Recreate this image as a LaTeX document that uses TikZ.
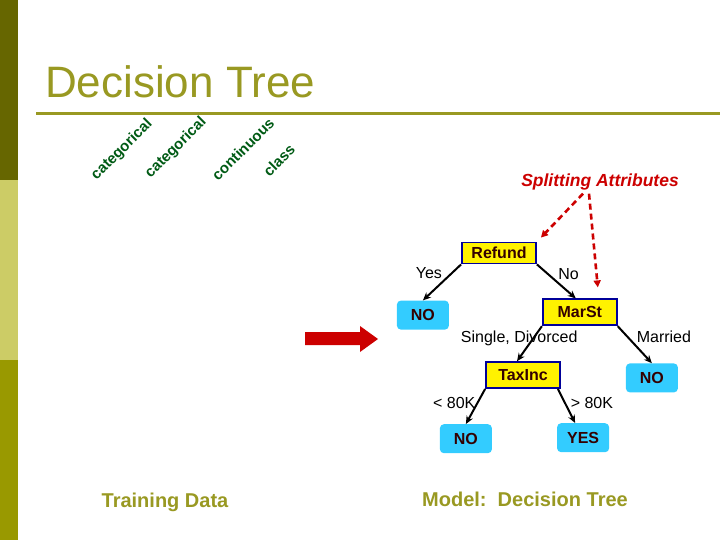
\documentclass[tikz,border=0pt]{standalone}
\usepackage{fontspec}
\setmainfont{Liberation Sans}
\usepackage{tikz}
\usetikzlibrary{arrows.meta, positioning}
\usepackage{xcolor}

\definecolor{bardark}{RGB}{102,102,0}
\definecolor{barlight}{RGB}{204,204,102}
\definecolor{barmid}{RGB}{153,153,0}
\definecolor{titleolive}{RGB}{153,153,34}
\definecolor{kindgreen}{RGB}{0,90,20}
\definecolor{splitred}{RGB}{204,0,0}
\definecolor{nodeblue}{RGB}{0,0,153}
\definecolor{leafcyan}{RGB}{51,204,255}
\definecolor{nodetext}{RGB}{51,0,0}

\begin{document}
\begin{tikzpicture}[
    x=1pt, y=-1pt,
    attr/.style={rectangle, draw=nodeblue, line width=1.8pt, fill=yellow, minimum width=74pt, minimum height=26pt, inner sep=0pt, font=\fontsize{16}{19}\selectfont\bfseries, text=nodetext},
    leaf/.style={rectangle, rounded corners=4pt, fill=leafcyan, minimum width=52pt, minimum height=29pt, inner sep=0pt, font=\fontsize{16}{19}\selectfont\bfseries, text=nodetext},
    edgelabel/.style={font=\fontsize{16}{19}\selectfont, inner sep=1pt},
    arrow/.style={-{Stealth[length=8pt, width=7pt]}, line width=2pt},
    hint/.style={-{Triangle[length=7pt, width=7pt]}, dash pattern=on 6pt off 4pt, line width=2.6pt, draw=splitred},
    kind/.style={rotate=45, font=\fontsize{15}{18}\selectfont\bfseries, text=kindgreen}
]
    \useasboundingbox (0,0) rectangle (720,540);

    % Seitenleiste
    \fill[bardark] (0,0) rectangle (18,180);
    \fill[barlight] (0,180) rectangle (18,360);
    \fill[barmid] (0,360) rectangle (18,540);

    % Titel
    \node[anchor=base west, inner sep=0pt, font=\fontsize{44}{52}\selectfont, text=titleolive] (title) at (45,98) {Decision Tree};
    \draw[titleolive, line width=3pt] (36,114) -- (720,114);

    % Attributtypen
    \node[kind] (cat1) at (122,150) {categorical};
    \node[kind] (cat2) at (176,148) {categorical};
    \node[kind] (cont) at (243,149) {continuous};
    \node[kind] (cls) at (279,160) {class};

    % Pfeil Daten -> Modell
    \fill[splitred] (305,332) -- (360,332) -- (360,326) -- (378,339) -- (360,352) -- (360,345) -- (305,345) -- cycle;

    % Baum
    \node[attr, minimum height=21pt] (refund) at (499,253) {Refund};
    \node[leaf, below left=36pt and 12pt of refund] (no1) {NO};
    \node[attr, below right=34pt and 5pt of refund] (marst) {MarSt};
    \node[attr, below left=35pt and -19pt of marst] (taxinc) {TaxInc};
    \node[leaf, below right=37pt and 8pt of marst] (no2) {NO};
    \node[leaf, below left=35pt and -7pt of taxinc] (no3) {NO};
    \node[leaf, below right=34pt and -4pt of taxinc] (yes) {YES};

    % Kanten
    \draw[arrow] (refund.south west) -- node[edgelabel, above left, pos=0.45] (lyes) {Yes} (no1.north);
    \draw[arrow] (refund.south east) -- node[edgelabel, above right] (lno) {No} ([xshift=-4pt]marst.north);
    \draw[arrow] (marst.south west) -- node[edgelabel, pos=0.35, xshift=-14pt] (lsingle) {Single, Divorced} ([xshift=-6pt]taxinc.north);
    \draw[arrow] (marst.south east) -- node[edgelabel, above right] (lmarried) {Married} (no2.north);
    \draw[arrow] (taxinc.south west) -- node[edgelabel, left, pos=0.4] (llow) {< 80K} (no3.north);
    \draw[arrow] ([xshift=-3pt]taxinc.south east) -- node[edgelabel, right, pos=0.4, xshift=4pt] (lhigh) {> 80K} ([xshift=-8pt]yes.north);

    % Splitting Attributes
    \node[font=\fontsize{17.5}{21}\selectfont\bfseries\itshape, text=splitred] (split) at (600,182) {Splitting Attributes};
    \draw[hint] ([xshift=-17pt]split.south) -- ([shift={(4,-4)}]refund.north east);
    \draw[hint] ([xshift=-11pt]split.south) -- ([shift={(18,-11)}]marst.north);

    % Beschriftungen unten
    \node[font=\fontsize{20}{24}\selectfont\bfseries, text=titleolive] (train) at (165,502) {Training Data};
    \node[font=\fontsize{20}{24}\selectfont\bfseries, text=titleolive] (model) at (525,499) {Model:~~Decision Tree};
\end{tikzpicture}
\end{document}
